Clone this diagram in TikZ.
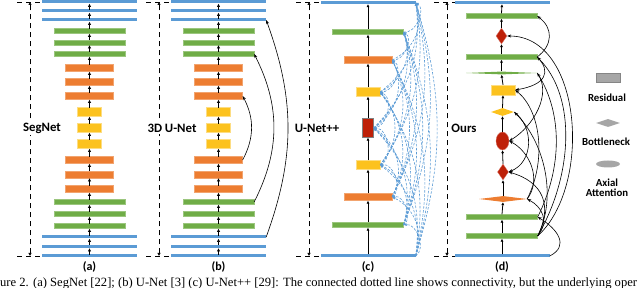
\documentclass[tikz,border=0pt]{standalone}
\usepackage{fontspec}
\setmainfont{Liberation Serif}
\newfontfamily\labfont{Carlito}
\usetikzlibrary{arrows.meta,shapes.geometric,calc}
\definecolor{barblue}{RGB}{91,155,213}
\definecolor{bargreen}{RGB}{112,173,71}
\definecolor{barorange}{RGB}{237,125,49}
\definecolor{baryellow}{RGB}{252,194,30}
\definecolor{barred}{RGB}{190,32,8}
\definecolor{leggray}{RGB}{166,166,166}
\tikzset{
  blueb/.style={rectangle,fill=barblue,minimum width=95pt,minimum height=3pt,inner sep=0pt},
  greenb/.style={rectangle,fill=bargreen,draw=bargreen!70!white,line width=0.3pt,minimum width=71pt,minimum height=5pt,inner sep=0pt},
  orangeb/.style={rectangle,fill=barorange,draw=barorange!70!white,line width=0.3pt,minimum width=48pt,minimum height=7pt,inner sep=0pt},
  yellowb/.style={rectangle,fill=baryellow,draw=baryellow!55!white,line width=0.4pt,minimum width=24pt,minimum height=9pt,inner sep=0pt},
  redb/.style={rectangle,fill=barred,draw=gray,line width=0.4pt,minimum width=11pt,minimum height=19pt,inner sep=0pt},
  greenflat/.style={diamond,fill=bargreen,minimum width=71pt,minimum height=3pt,inner sep=0pt},
  orangeflat/.style={diamond,fill=barorange,minimum width=48pt,minimum height=6pt,inner sep=0pt},
  yellowdia/.style={diamond,fill=baryellow,minimum width=23pt,minimum height=8pt,inner sep=0pt},
  yellowbox/.style={yellowb,minimum height=10pt},
  reddia/.style={diamond,fill=barred,draw=barred!60!white,line width=0.3pt,minimum width=11pt,minimum height=16pt,inner sep=0pt},
  redell/.style={ellipse,fill=barred,draw=barred!60!white,line width=0.3pt,minimum width=13pt,minimum height=18pt,inner sep=0pt},
  legbox/.style={rectangle,fill=leggray,draw=leggray!80!black,line width=0.3pt,minimum width=24pt,minimum height=9pt,inner sep=0pt},
  legdia/.style={diamond,fill=leggray,minimum width=24pt,minimum height=8pt,inner sep=0pt},
  legell/.style={ellipse,fill=leggray,minimum width=24pt,minimum height=7pt,inner sep=0pt},
  legtext/.style={font=\labfont\fontsize{10.8}{11}\selectfont\bfseries,align=center,inner sep=0pt},
  netname/.style={font=\labfont\fontsize{12.8}{14}\selectfont\bfseries,fill=white,inner sep=2pt},
  panel/.style={font=\labfont\fontsize{12}{14}\selectfont\bfseries,inner sep=0pt},
  bracket/.style={dashed,dash pattern=on 5pt off 4pt,line width=0.9pt},
  span/.style={bracket,{Latex[length=3pt,width=3.5pt]}-{Latex[length=3pt,width=3.5pt]}},
  smallup/.style={-{Latex[length=3.2pt,width=3.4pt]},line width=0.7pt,shorten <=-0.5pt},
  flow/.style={-{Latex[length=3pt,width=3pt]},line width=0.8pt},
  skiparr/.style={-{Stealth[length=4pt,width=3pt]},line width=0.6pt},
  densearr/.style={-{Latex[length=3pt,width=3pt]},dashed,dash pattern=on 2.5pt off 1.5pt,barblue,line width=0.6pt},
}
\begin{document}
\begin{tikzpicture}[x=1pt,y=1pt]
  \useasboundingbox (0,0) rectangle (640,288);
  % (a) SegNet and (b) 3D U-Net
  \foreach \s/\y [count=\i] in {blueb/32,blueb/41.5,blueb/51,greenb/62,greenb/74,greenb/86,
      orangeb/99,orangeb/113.5,orangeb/128,yellowb/144,yellowb/160,yellowb/176,
      orangeb/192,orangeb/206,orangeb/220,greenb/234,greenb/245.5,greenb/257,
      blueb/268,blueb/277,blueb/286} {
    \node[\s] (a\i) at (89.5,\y) {};
    \node[\s] (b\i) at (218.5,\y) {};
  }
  \foreach \i [evaluate=\i as \j using int(\i+1)] in {1,...,20} {
    \draw[smallup] (a\i.north) -- (a\j.south);
    \draw[smallup] (b\i.north) -- (b\j.south);
  }
  \draw[skiparr] (b9.east) to[bend right=28] (b13.east);
  \draw[skiparr] (b6.east) to[bend right=27] (b16.east);
  \draw[skiparr] (b3.east) to[bend right=20] (b19.east);
  % (c) U-Net++
  \foreach \s/\y [count=\i from 0] in {blueb/32,greenb/63,orangeb/91,yellowb/123,redb/160,
      yellowb/196,orangeb/228,greenb/256,blueb/285.5}
    \node[\s] (c\i) at (368,\y) {};
  \foreach \i [evaluate=\i as \j using int(\i+1)] in {0,...,7}
    \draw[flow] (c\i.north) -- (c\j.south);
  \foreach \i in {0,...,7} {
    \pgfmathtruncatemacro\k{\i+1}
    \foreach \j in {\k,...,8} {
      \pgfmathsetmacro\b{70/(\j-\i)+8}
      \draw[densearr] (c\i.east) to[bend right=\b] (c\j.east);
    }
  }
  % (d) Ours
  \foreach \s/\x/\y [count=\i from 0] in {blueb/502/32,greenb/502/52,greenb/502/71,
      orangeflat/503/89,reddia/503/116,redell/502.5/147,yellowdia/502.5/176,
      yellowbox/503/198,greenflat/501.5/215,greenb/501.5/231,reddia/501.5/252,
      greenb/501.5/272,blueb/502/285.5}
    \node[\s] (d\i) at (\x,\y) {};
  \foreach \i [evaluate=\i as \j using int(\i+1)] in {0,...,11}
    \draw[flow] (d\i.north) -- (d\j.south);
  \draw[skiparr] (d0.east) .. controls +(20,10) and +(20,-12) .. (d2.east);
  \draw[skiparr] (d9.east) .. controls +(16,12) and +(16,-12) .. (d11.east);
  \draw[skiparr] (d1.east) .. controls +(55,50) and +(75,0) .. (d10.east);
  \draw[skiparr] (d1.east) .. controls +(35,60) and +(40,-40) .. (d9.east);
  \draw[skiparr] (d2.east) .. controls +(25,50) and +(25,-40) .. (d8.east);
  \draw[skiparr] (d1.east) .. controls +(20,40) and +(30,-30) .. (d6.east);
  \draw[skiparr] (d1.east) .. controls +(15,30) and +(35,-10) .. (d4.east);
  \draw[skiparr] (d1.east) .. controls +(12,15) and +(15,-8) .. (d3.east);
  \draw[skiparr] (d3.east) .. controls +(15,20) and +(20,-10) .. (d5.east);
  \draw[skiparr] (d3.east) .. controls +(20,40) and +(25,-20) .. (d7.east);
  \draw[skiparr] (d8.east) .. controls +(15,-20) and +(25,15) .. (d5.east);
  \draw[skiparr] (d9.east) .. controls +(15,-15) and +(30,5) .. (d7.east);
  \draw[skiparr] (d6.east) .. controls +(20,-15) and +(25,10) .. (d4.east);
  % dashed spans with network names
  \foreach \v/\e/\n/\l/\lx/\cx in {30/40/a/SegNet/42/89.5,159/170/b/{3D U-Net}/172/218.5,
      309/320/c/{U-Net++}/317/368,447/455/d/Ours/464/502} {
    \coordinate (\n tl) at (\v-13,286);
    \coordinate (\n tr) at (\e,286);
    \coordinate (\n bl) at (\v-13,32);
    \coordinate (\n br) at (\e,32);
    \coordinate (\n top) at (\v,286);
    \coordinate (\n bot) at (\v,32);
    \draw[bracket] (\n tl) -- (\n tr);
    \draw[bracket] (\n bl) -- (\n br);
    \draw[span] (\n bot) -- (\n top);
    \node[netname] (\n name) at (\lx,160) {\l};
    \node[panel] (\n lab) at (\cx,21) {(\n)};
  }
  % legend
  \node[legbox] (resbox) at (608,210) {};
  \node[legtext] (restxt) at (607,190) {Residual};
  \node[legdia] (botdia) at (608,165) {};
  \node[legtext] (bottxt) at (606,146) {Bottleneck};
  \node[legell] (axell) at (608,124) {};
  \node[legtext] (axtxt) at (607,100) {Axial\\[-1pt]Attention};
  % caption line
  \node[anchor=base west,inner sep=0pt,font=\fontsize{12.6}{14}\selectfont] (caption) at (0,1.5)
    {ure 2. (a) SegNet [22]; (b) U-Net [3] (c) U-Net++ [29]: The connected dotted line shows connectivity, but the underlying oper};
\end{tikzpicture}
\end{document}
